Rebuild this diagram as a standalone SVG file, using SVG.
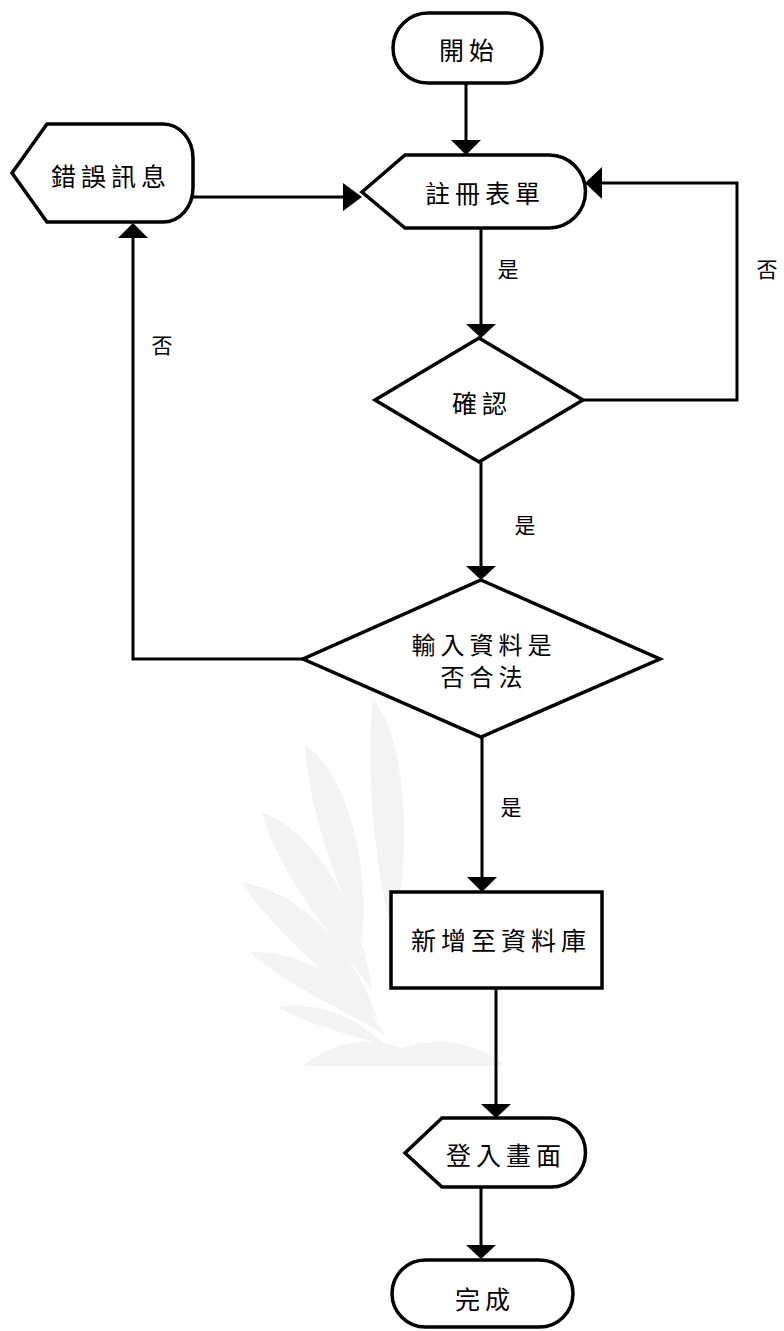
<svg xmlns="http://www.w3.org/2000/svg" width="784" height="1331" viewBox="0 0 784 1331">
<style>
.shape{fill:#fff;stroke:#000;stroke-width:3.5;stroke-linejoin:miter}
.ln{fill:none;stroke:#000;stroke-width:3}
.ah{fill:#000;stroke:none}
.t{font-family:"Noto Sans CJK TC","Noto Sans CJK SC",sans-serif;font-size:25px;fill:#000;text-anchor:middle;dominant-baseline:central;letter-spacing:5px}
.t2{font-size:24px}
.lb{font-family:"Noto Sans CJK TC","Noto Sans CJK SC",sans-serif;font-size:21px;fill:#000;text-anchor:middle;dominant-baseline:central}
.wm{fill:#f3f3f3;stroke:none}
</style>
<g id="watermark">
<path class="wm" d="M373,700 C410,740 410,870 393,932 C375,880 365,760 373,700 Z"/>
<path class="wm" d="M305,745 C345,770 370,860 362,940 C340,890 310,820 305,745 Z"/>
<path class="wm" d="M262,812 C310,830 360,900 372,990 C340,945 280,880 262,812 Z"/>
<path class="wm" d="M243,883 C300,890 355,950 378,1020 C340,985 270,930 243,883 Z"/>
<path class="wm" d="M250,952 C310,950 360,990 385,1035 C345,1010 285,985 250,952 Z"/>
<path class="wm" d="M277,1007 C320,1000 360,1020 385,1045 C350,1035 310,1025 277,1007 Z"/>
<path class="wm" d="M305,1064 Q350,1030 402,1048 Q452,1030 502,1062 L502,1066 L305,1066 Z"/>
</g>
<g id="connectors">
<line class="ln" x1="466" y1="83" x2="466" y2="141"/>
<polygon class="ah" points="451,140 481,140 466,155"/>
<line class="ln" x1="193" y1="197" x2="344" y2="197"/>
<polygon class="ah" points="343,183 343,211 362,197"/>
<line class="ln" x1="481" y1="228" x2="481" y2="325"/>
<polygon class="ah" points="466,324 496,324 481,338"/>
<polyline class="ln" points="583,400 737,400 737,183 601,183"/>
<polygon class="ah" points="602,167 602,199 585,183"/>
<line class="ln" x1="481" y1="462" x2="481" y2="567"/>
<polygon class="ah" points="466,566 496,566 481,580"/>
<polyline class="ln" points="303,659 133,659 133,237"/>
<polygon class="ah" points="118,238 148,238 133,223"/>
<line class="ln" x1="482" y1="737" x2="482" y2="878"/>
<polygon class="ah" points="467,877 497,877 482,892"/>
<line class="ln" x1="496" y1="988" x2="496" y2="1105"/>
<polygon class="ah" points="481,1104 511,1104 496,1118"/>
<line class="ln" x1="481" y1="1187" x2="481" y2="1246"/>
<polygon class="ah" points="466,1245 496,1245 481,1259"/>
<text class="lb" x="508" y="268">是</text>
<text class="lb" x="525" y="524">是</text>
<text class="lb" x="511" y="806">是</text>
<text class="lb" x="767" y="268">否</text>
<text class="lb" x="162" y="344">否</text>
</g>
<g id="start">
<rect class="shape" x="393" y="13" width="149" height="70" rx="35" ry="35"/>
<text class="t" x="469" y="49">開始</text>
</g>
<g id="form">
<path class="shape" d="M362,192 L405,155 L549,155 A36.5,36.5 0 0 1 549,228 L405,228 Z"/>
<text class="t" x="485" y="192">註冊表單</text>
</g>
<g id="error">
<path class="shape" d="M12,173 L47,124 L163,124 A30,34 0 0 1 193,158 L193,188 A30,34 0 0 1 163,222 L47,222 Z"/>
<text class="t" x="111" y="175">錯誤訊息</text>
</g>
<g id="confirm">
<polygon class="shape" points="479,338 583,400 479,462 375,400"/>
<text class="t" x="482" y="402">確認</text>
</g>
<g id="validate">
<polygon class="shape" points="481,580 660,659 481,737 303,659"/>
<text class="t t2" x="484" y="643">輸入資料是</text>
<text class="t t2" x="484" y="675">否合法</text>
</g>
<g id="insert">
<rect class="shape" x="391" y="892" width="211" height="96"/>
<text class="t" x="501" y="939">新增至資料庫</text>
</g>
<g id="login">
<path class="shape" d="M405,1153 L442,1118 L551,1118 A34.5,34.5 0 0 1 551,1187 L442,1187 Z"/>
<text class="t" x="506" y="1154">登入畫面</text>
</g>
<g id="done">
<rect class="shape" x="392" y="1260" width="181" height="67" rx="33.5" ry="33.5"/>
<text class="t" x="485" y="1298">完成</text>
</g>
</svg>
